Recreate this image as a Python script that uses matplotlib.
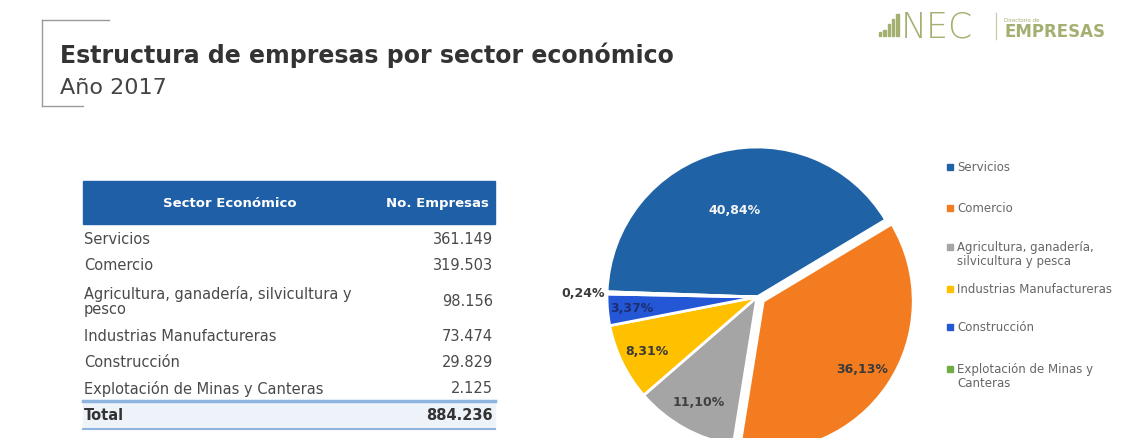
import numpy as np
from matplotlib import pyplot as plt
from matplotlib.patches import Rectangle
from matplotlib.lines import Line2D

sectors = ['Servicios', 'Comercio', 'Agricultura, ganadería, silvicultura y\npesco',
           'Industrias Manufactureras', 'Construcción', 'Explotación de Minas y Canteras']
legend_labels = ['Servicios', 'Comercio', 'Agricultura, ganadería,\nsilvicultura y pesca',
                 'Industrias Manufactureras', 'Construcción', 'Explotación de Minas y\nCanteras']
empresas = [361149, 319503, 98156, 73474, 29829, 2125]
colors = ['#1f63a6', '#f47c20', '#a5a5a5', '#ffc000', '#2457d6', '#70ad47']
pct_colors = ['#f4f4f4', '#3a3a3a', '#404040', '#3a3a3a', '#1c2f70', '#3a3a3a']
pct_r = [0.6, 0.8, 0.8, 0.82, 0.84, 1.16]

W, H = 1133, 439
fig = plt.figure(figsize=(W / 100, H / 100), dpi=100)
fig.patch.set_facecolor('white')

def fx(x):
    return x / W

def fy(y):
    return 1 - y / H

# title block
fig.add_artist(Line2D([fx(42), fx(42)], [fy(21), fy(107)], color='#9a9a9a', lw=1))
fig.add_artist(Line2D([fx(42), fx(109)], [fy(21), fy(21)], color='#9a9a9a', lw=1))
fig.add_artist(Line2D([fx(42), fx(83)], [fy(107), fy(107)], color='#9a9a9a', lw=1))
fig.text(fx(60), fy(63), 'Estructura de empresas por sector económico', fontsize=17,
         fontweight='bold', color='#333333', va='baseline')
fig.text(fx(60), fy(94), 'Año 2017', fontsize=16, color='#444444', va='baseline')

# logo
logo = '#a3b071'
for i, h in enumerate([4, 6, 12, 17, 22]):
    fig.add_artist(Rectangle((fx(879 + i * 4.3), fy(37)), fx(2.4), h / H, color=logo))
fig.text(fx(901), fy(37), 'NEC', fontsize=25, fontweight='light', color=logo, va='baseline')
fig.add_artist(Line2D([fx(996), fx(996)], [fy(14), fy(40)], color='#c8cfb0', lw=1))
fig.text(fx(1004), fy(22), 'Directorio de', fontsize=4, color=logo, va='baseline')
fig.text(fx(1004), fy(37), 'EMPRESAS', fontsize=12, fontweight='bold', color=logo, va='baseline')

# table
tl, tr = 83, 495
txt = '#4a4a4a'
fig.add_artist(Rectangle((fx(tl), fy(225)), fx(tr - tl), (225 - 182) / H, color='#1f5fa8'))
fig.text(fx(230), fy(204), 'Sector Económico', fontsize=9.5, fontweight='bold',
         color='white', ha='center', va='center')
fig.text(fx(437), fy(204), 'No. Empresas', fontsize=9.5, fontweight='bold',
         color='white', ha='center', va='center')
row_h = [26, 26, 45, 26, 26, 26]
y = 227
for name, v, h in zip(sectors, empresas, row_h):
    yc = y + h / 2
    fig.text(fx(84), fy(yc), name, fontsize=10.5, color=txt, va='center', linespacing=0.95)
    fig.text(fx(493), fy(yc), f'{v:,}'.replace(',', '.'), fontsize=10.5, color=txt,
             ha='right', va='center')
    y += h
fig.add_artist(Rectangle((fx(tl), fy(430)), fx(tr - tl), (430 - y) / H, color='#eef3fa'))
fig.add_artist(Line2D([fx(tl), fx(tr)], [fy(y), fy(y)], color='#8fb4e0', lw=2.5))
fig.add_artist(Line2D([fx(tl), fx(tr)], [fy(430), fy(430)], color='#8fb4e0', lw=1.5))
fig.text(fx(84), fy(416), 'Total', fontsize=10.5, fontweight='bold', color='#333333', va='center')
fig.text(fx(493), fy(416), f'{sum(empresas):,}'.replace(',', '.'), fontsize=10.5,
         fontweight='bold', color='#333333', ha='right', va='center')

# pie
cx, cy, R = 757, 298, 150
ax = fig.add_axes([fx(cx - 1.1 * R), (H - cy - 1.1 * R) / H, fx(2.2 * R), 2.2 * R / H])
explode = [0, 0.05, 0, 0, 0, 0]
wedges, _ = ax.pie(empresas, colors=colors, startangle=178, counterclock=False,
                   explode=explode, wedgeprops=dict(edgecolor='white', linewidth=2))
ax.set_xlim(-1.1, 1.1)
ax.set_ylim(-1.1, 1.1)
ax.set_aspect('equal')
ax.axis('off')
total = sum(empresas)
for w, v, r, c in zip(wedges, empresas, pct_r, pct_colors):
    t = np.deg2rad((w.theta1 + w.theta2) / 2)
    px = w.center[0] + r * np.cos(t)
    py = w.center[1] + r * np.sin(t)
    ax.text(px, py, f'{100 * v / total:.2f}%'.replace('.', ','), ha='center', va='center',
            fontsize=9, fontweight='bold', color=c, clip_on=False)

# legend
leg_y = [168, 209, 248, 290, 328, 370]
for lab, c, ly in zip(legend_labels, colors, leg_y):
    fig.add_artist(Rectangle((fx(947), fy(ly + 3)), fx(6), 6 / H, color=c))
    fig.text(fx(957), fy(ly - 7), lab, fontsize=8.5, color='#666666', va='top', linespacing=1.15)

fig.savefig('out.png', dpi=100)
